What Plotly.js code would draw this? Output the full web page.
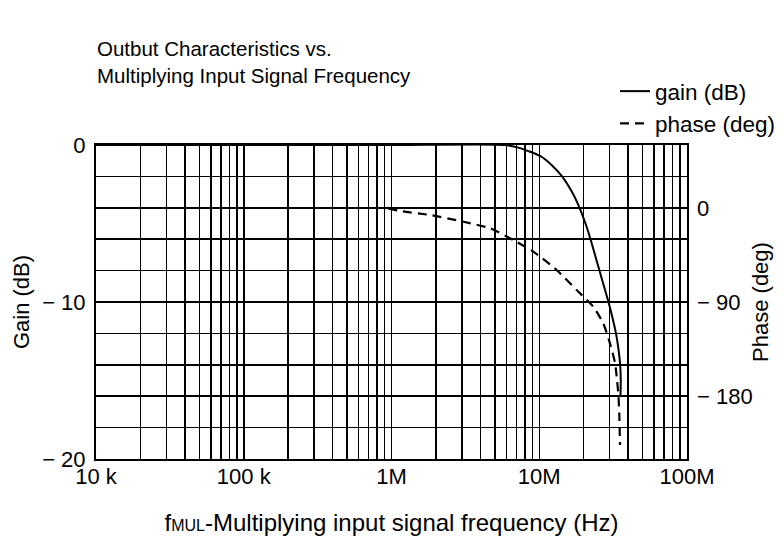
<!DOCTYPE html>
<html>
<head>
<meta charset="utf-8">
<script src="https://cdn.plot.ly/plotly-3.0.1.min.js"></script>
<style>html,body{margin:0;padding:0;background:#fff;}#chart{width:784px;height:544px;}</style>
</head>
<body>
<div id="chart"></div>
<script>
// Gain curve (dB) vs frequency (Hz)
const gainFreq = [1e4, 1e6, 5.87e6, 7.41e6, 10.12e6, 12.21e6, 14.27e6, 16.67e6, 18.73e6, 20.56e6, 22.23e6, 23.84e6, 25.56e6, 27.42e6, 29.42e6, 31.30e6, 33.06e6, 34.37e6, 35.29e6, 35.62e6, 35.45e6];
const gainDb   = [0,   0,   0,      -0.2,   -0.7,    -1.3,    -2,      -3,      -4,      -5,      -6,      -7,      -8,      -9,      -10,     -11,     -12,     -13,     -14,     -15,     -16];

// Phase curve (deg) vs frequency (Hz)
const phaseFreq = [0.95e6, 1.15e6, 1.83e6, 3.07e6, 4.65e6, 6.68e6, 9.12e6, 13.1e6, 17.9e6, 23.2e6, 27.1e6, 30.1e6, 32.6e6, 33.6e6, 34.4e6, 34.8e6, 35.2e6];
const phaseDeg  = [-0.5,   -3.1,   -6.9,   -13.3,  -19.6,  -30.8,  -41.9,  -59.4,  -78.5,  -94.5,  -110.3, -129.5, -148.6, -164.5, -180.5, -196.3, -226.6];

// Frequency grid / tick labels
const freqTickVals = [1e4,2e4,3e4,4e4,5e4,6e4,7e4,8e4,9e4,
                      1e5,2e5,3e5,4e5,5e5,6e5,7e5,8e5,9e5,
                      1e6,2e6,3e6,4e6,5e6,6e6,7e6,8e6,9e6,
                      1e7,2e7,3e7,4e7,5e7,6e7,7e7,8e7,9e7,1e8];
const freqTickText = ["10 k","","","","","","","","",
                      "100 k","","","","","","","","",
                      "1M","","","","","","","","",
                      "10M","","","","","","","","","100M"];

// Gain axis ticks
const gainTickVals = [0,-2,-4,-6,-8,-10,-12,-14,-16,-18,-20];
const gainTickText = ["0","","","","","− 10","","","","","− 20"];

// Phase axis ticks
const phaseTickVals = [0,-90,-180];
const phaseTickText = ["0","− 90","− 180"];

const FONT = "Liberation Sans, Arial, sans-serif";

const traces = [
  {x: gainFreq, y: gainDb, name: "gain (dB)", type: "scatter", mode: "lines",
   line: {color: "#000", width: 2, shape: "spline", smoothing: 0.6}, yaxis: "y"},
  {x: phaseFreq, y: phaseDeg, name: "phase (deg)", type: "scatter", mode: "lines",
   line: {color: "#000", width: 2.2, dash: "9px,6px", shape: "spline", smoothing: 0.6}, yaxis: "y2"}
];

const layout = {
  width: 784, height: 544,
  margin: {l: 96, r: 97, t: 145, b: 85, autoexpand: false},
  paper_bgcolor: "#fff", plot_bgcolor: "#fff",
  font: {family: FONT, color: "#000", size: 22},
  showlegend: true,
  title: {
    text: "Outbut Characteristics vs.<br>Multiplying Input Signal Frequency",
    x: 97/784, xref: "container", xanchor: "left",
    y: 1 - 56/544, yref: "container", yanchor: "top",
    font: {family: FONT, size: 20.5, color: "#000"}
  },
  legend: {
    x: (615-96)/591, xanchor: "left", y: (459-70)/314, yanchor: "top",
    bgcolor: "rgba(0,0,0,0)", font: {family: FONT, size: 22.5, color: "#000"},
    tracegroupgap: 0
  },
  xaxis: {
    type: "log", range: [4, 8],
    tickmode: "array", tickvals: freqTickVals, ticktext: freqTickText,
    showgrid: true, gridcolor: "#000", gridwidth: 1.5,
    showline: true, linecolor: "#000", linewidth: 2, mirror: true,
    ticks: "", zeroline: false, ticklabelstandoff: -3,
    tickfont: {family: FONT, size: 22, color: "#000"},
    title: {text: 'f<span style="font-size:16px">MUL</span>-Multiplying input signal frequency (Hz)',
            font: {family: FONT, size: 24, color: "#000"}, standoff: 26}
  },
  yaxis: {
    range: [-20, 0],
    tickmode: "array", tickvals: gainTickVals, ticktext: gainTickText,
    showgrid: true, gridcolor: "#000", gridwidth: 1.5,
    showline: true, linecolor: "#000", linewidth: 2, mirror: true,
    ticks: "", zeroline: false, ticklabelstandoff: 4,
    tickfont: {family: FONT, size: 22, color: "#000"},
    title: {text: "Gain (dB)", font: {family: FONT, size: 22, color: "#000"}, standoff: 6}
  },
  yaxis2: {
    overlaying: "y", side: "right", range: [-240, 60],
    tickmode: "array", tickvals: phaseTickVals, ticktext: phaseTickText,
    showgrid: false, zeroline: false, ticks: "", showline: false,
    ticklabelstandoff: 9,
    tickfont: {family: FONT, size: 22, color: "#000"},
    title: {text: "Phase (deg)", font: {family: FONT, size: 22, color: "#000"}, standoff: 0}
  }
};

Plotly.newPlot("chart", traces, layout, {displayModeBar: false, staticPlot: true});
</script>
</body>
</html>
